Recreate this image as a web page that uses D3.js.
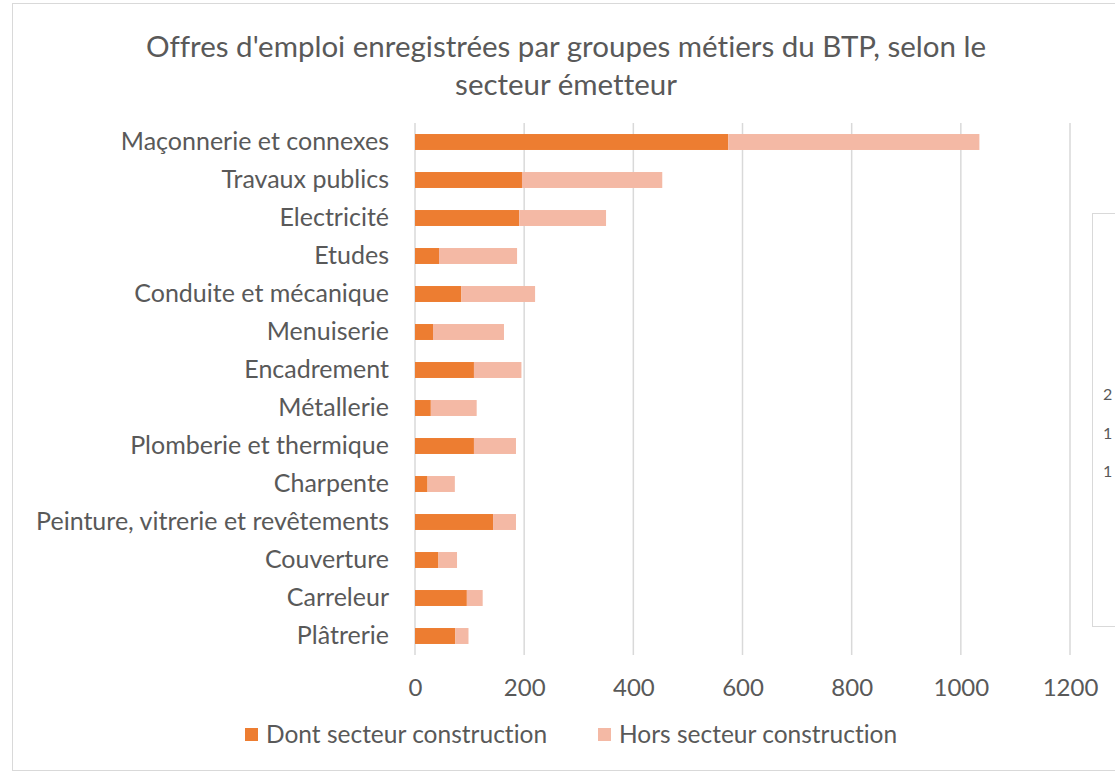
<!DOCTYPE html>
<html>
<head>
<meta charset="utf-8">
<script src="https://cdn.jsdelivr.net/npm/d3@7"></script>
<style>
  html, body { margin: 0; padding: 0; background: #fff; }
  svg { display: block; font-family: Lato, "Open Sans", sans-serif; font-variant-ligatures: none; }
</style>
</head>
<body>
<svg id="chart" width="1115" height="775"></svg>
<script>
// Job-offer groups of the building trades (top to bottom)
const categories = [
  "Maçonnerie et connexes",
  "Travaux publics",
  "Electricité",
  "Etudes",
  "Conduite et mécanique",
  "Menuiserie",
  "Encadrement",
  "Métallerie",
  "Plomberie et thermique",
  "Charpente",
  "Peinture, vitrerie et revêtements",
  "Couverture",
  "Carreleur",
  "Plâtrerie"
];
// Offers issued by the construction sector itself
const dontConstruction = [574, 196, 191, 44, 85, 33, 108, 29, 108, 23, 143, 43, 95, 74];
// Offers issued outside the construction sector
const horsConstruction = [460, 257, 159, 143, 135, 130, 87, 84, 77, 50, 42, 34, 29, 24];
const seriesNames = ["Dont secteur construction", "Hors secteur construction"];
const xTicks = [0, 200, 400, 600, 800, 1000, 1200];
const titleLines = ["Offres d'emploi enregistrées par groupes métiers du BTP, selon le", "secteur émetteur"];
// Fragment of a neighbouring chart's axis labels, visible at the right edge
const sideLabels = ["2", "1", "1"];

const colors = ["#ED7D31", "#F4B9A5"];
const textColor = "#595959";
const gridColor = "#D9D9D9";
const font = "Lato, 'Open Sans', sans-serif";

const svg = d3.select("#chart");

// Chart area frame
svg.append("rect")
  .attr("x", 12.5).attr("y", 3.5)
  .attr("width", 1140).attr("height", 767)
  .attr("fill", "#fff").attr("stroke", gridColor).attr("stroke-width", 1);

// Neighbouring chart frame fragment
svg.append("rect")
  .attr("x", 1092.5).attr("y", 213.5)
  .attr("width", 60).attr("height", 413)
  .attr("fill", "#fff").attr("stroke", gridColor).attr("stroke-width", 1);
svg.append("g").selectAll("text").data(sideLabels).join("text")
  .attr("x", 1103).attr("y", (d, i) => 400 + i * 38.5)
  .attr("font-size", 16).attr("fill", textColor)
  .text(d => d);

// Title
svg.append("g").selectAll("text").data(titleLines).join("text")
  .attr("x", 566).attr("y", (d, i) => 57 + i * 38)
  .attr("text-anchor", "middle")
  .attr("font-size", 29.5).attr("fill", textColor)
  .text(d => d);

const margin = { left: 415, right: 1070, top: 123, bottom: 655 };

const x = d3.scaleLinear().domain([0, 1200]).range([margin.left, margin.right]);
const y = d3.scaleBand().domain(categories).range([margin.top, margin.bottom]).paddingInner(0.58).paddingOuter(0.29);

// Vertical gridlines
svg.append("g").selectAll("line").data(xTicks).join("line")
  .attr("x1", d => x(d)).attr("x2", d => x(d))
  .attr("y1", margin.top).attr("y2", margin.bottom)
  .attr("stroke", gridColor).attr("stroke-width", 1.5);

// Stacked bars
const rows = categories.map((c, i) => ({ cat: c, dont: dontConstruction[i], hors: horsConstruction[i] }));
const stack = d3.stack().keys(["dont", "hors"])(rows);

svg.append("g").selectAll("g").data(stack).join("g")
  .attr("fill", (d, i) => colors[i])
  .selectAll("rect").data(d => d).join("rect")
  .attr("x", d => x(d[0]))
  .attr("width", d => x(d[1]) - x(d[0]))
  .attr("y", d => y(d.data.cat))
  .attr("height", y.bandwidth());

// Category axis (labels only)
const yAxis = svg.append("g")
  .attr("transform", `translate(${margin.left},0)`)
  .call(d3.axisLeft(y).tickSize(0).tickPadding(26));
yAxis.select(".domain").remove();
yAxis.selectAll("text")
  .attr("font-size", 25).attr("fill", textColor)
  .attr("font-family", font);

// Value axis (labels only)
const xAxis = svg.append("g")
  .attr("transform", `translate(0,${margin.bottom})`)
  .call(d3.axisBottom(x).tickValues(xTicks).tickSize(0).tickPadding(24).tickFormat(d3.format("d")));
xAxis.select(".domain").remove();
xAxis.selectAll("text")
  .attr("font-size", 24).attr("fill", textColor)
  .attr("font-family", font);

// Legend
const legendX = [245, 598];
const legend = svg.append("g").selectAll("g").data(seriesNames).join("g")
  .attr("transform", (d, i) => `translate(${legendX[i]},728)`);
legend.append("rect").attr("width", 13).attr("height", 13).attr("fill", (d, i) => colors[i]);
legend.append("text").attr("x", 21).attr("y", 15)
  .attr("font-size", 24.5).attr("fill", textColor).text(d => d);
</script>
</body>
</html>
